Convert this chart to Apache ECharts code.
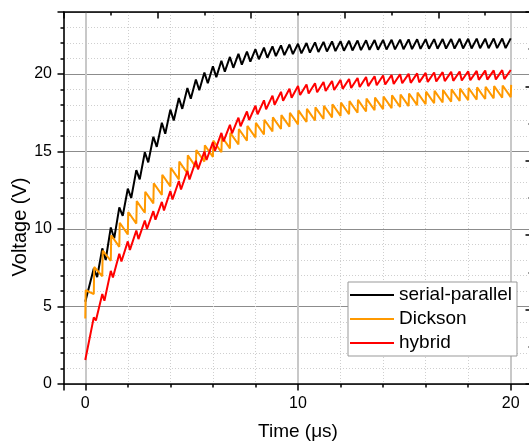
<!DOCTYPE html>
<html><head><meta charset="utf-8">
<script src="https://cdn.jsdelivr.net/npm/echarts@6/dist/echarts.min.js"></script>
<style>html,body{margin:0;padding:0;background:#fff}#c{width:529px;height:443px}</style>
</head><body><div id="c"></div>
<script>
const seriesNames = ['serial-parallel', 'Dickson', 'hybrid'];
const xTickLabels = [0, 10, 20];
const yTickLabels = [0, 5, 10, 15, 20];

const serialParallel = [
[0,5.3],
[0.4,7.45],[0.56,6.9],[0.8,8.75],[0.96,8.0],[1.2,10.1],[1.36,9.4],[1.6,11.4],[1.76,10.85],
[2.0,12.6],[2.16,12.0],[2.4,13.8],[2.56,13.2],[2.8,14.95],[2.96,14.3],[3.2,15.95],[3.36,15.3],
[3.6,16.85],[3.76,16.15],[4.0,17.7],[4.16,17.0],[4.4,18.45],[4.56,17.75],[4.8,19.1],[4.96,18.4],
[5.2,19.65],[5.36,18.95],[5.6,20.1],[5.76,19.4],[6.0,20.5],[6.16,19.8],[6.4,20.85],[6.56,20.15],
[6.8,21.1],[6.96,20.4],[7.2,21.3],[7.36,20.6],[7.6,21.45],[7.76,20.8],[8.0,21.6],[8.16,20.95],
[8.4,21.7],[8.56,21.05],[8.8,21.78],[8.96,21.15],[9.2,21.85],[9.36,21.22],[9.6,21.9],[9.76,21.28],
[10.0,21.95],[10.16,21.33],[10.4,22.0],[10.56,21.38],[10.8,22.04],[10.96,21.42],[11.2,22.07],[11.36,21.45],
[11.6,22.1],[11.76,21.48],[12.0,22.12],[12.16,21.5],[12.4,22.14],[12.56,21.52],[12.8,22.16],[12.96,21.54],
[13.2,22.18],[13.36,21.56],[13.6,22.19],[13.76,21.57],[14.0,22.2],[14.16,21.58],[14.4,22.21],[14.56,21.59],
[14.8,22.22],[14.96,21.6],[15.2,22.23],[15.36,21.61],[15.6,22.24],[15.76,21.62],[16.0,22.25],[16.16,21.63],
[16.4,22.25],[16.56,21.63],[16.8,22.26],[16.96,21.64],[17.2,22.26],[17.36,21.64],[17.6,22.27],[17.76,21.65],
[18.0,22.27],[18.16,21.65],[18.4,22.28],[18.56,21.66],[18.8,22.28],[18.96,21.66],[19.2,22.29],[19.36,21.67],
[19.6,22.29],[19.76,21.67],[20.0,22.3]
];

const dickson = [
[0,4.23],[0.02,6.05],
[0.4,5.8],[0.42,7.55],[0.8,6.95],[0.82,8.6],[1.2,7.95],[1.22,9.6],[1.6,8.85],[1.62,10.4],
[2.0,9.65],[2.02,11.1],[2.4,10.35],[2.42,11.8],[2.8,11.05],[2.82,12.4],[3.2,11.65],[3.22,12.95],
[3.6,12.2],[3.62,13.5],[4.0,12.75],[4.02,13.95],[4.4,13.2],[4.42,14.35],[4.8,13.6],[4.82,14.75],
[5.2,14.0],[5.22,15.1],[5.6,14.35],[5.62,15.4],[6.0,14.65],[6.02,15.7],[6.4,14.95],[6.42,15.95],
[6.8,15.2],[6.82,16.2],[7.2,15.45],[7.22,16.45],[7.6,15.7],[7.62,16.65],[8.0,15.9],[8.02,16.85],
[8.4,16.1],[8.42,17.05],[8.8,16.3],[8.82,17.2],[9.2,16.45],[9.22,17.35],[9.6,16.6],[9.62,17.5],
[10.0,16.75],[10.02,17.65],[10.4,16.9],[10.42,17.75],[10.8,17.0],[10.82,17.85],[11.2,17.1],[11.22,17.95],
[11.6,17.2],[11.62,18.05],[12.0,17.3],[12.02,18.15],[12.4,17.4],[12.42,18.25],[12.8,17.5],[12.82,18.33],
[13.2,17.58],[13.22,18.41],[13.6,17.66],[13.62,18.48],[14.0,17.73],[14.02,18.55],[14.4,17.8],[14.42,18.62],
[14.8,17.87],[14.82,18.68],[15.2,17.93],[15.22,18.74],[15.6,17.99],[15.62,18.8],[16.0,18.05],[16.02,18.86],
[16.4,18.11],[16.42,18.91],[16.8,18.16],[16.82,18.96],[17.2,18.21],[17.22,19.01],[17.6,18.26],[17.62,19.06],
[18.0,18.31],[18.02,19.1],[18.4,18.35],[18.42,19.14],[18.8,18.39],[18.82,19.18],[19.2,18.43],[19.22,19.22],
[19.6,18.47],[19.62,19.26],[20.0,18.51],[20.02,19.3]
];

const hybrid = [
[0,1.55],
[0.4,4.3],[0.5,4.1],[0.8,5.8],[0.9,5.37],[1.2,7.3],[1.3,6.87],[1.6,8.4],[1.7,7.9],
[2.0,9.2],[2.1,8.65],[2.4,9.9],[2.5,9.35],[2.8,10.55],[2.9,10.0],[3.2,11.15],[3.3,10.6],
[3.6,11.75],[3.7,11.2],[4.0,12.45],[4.1,11.9],[4.4,13.1],[4.5,12.55],[4.8,13.75],[4.9,13.2],
[5.2,14.4],[5.3,13.85],[5.6,15.0],[5.7,14.45],[6.0,15.6],[6.1,15.05],[6.4,16.2],[6.5,15.65],
[6.8,16.72],[6.9,16.17],[7.2,17.18],[7.3,16.63],[7.6,17.58],[7.7,17.03],[8.0,17.95],[8.1,17.4],
[8.4,18.3],[8.5,17.72],[8.8,18.6],[8.9,18.02],[9.2,18.85],[9.3,18.27],[9.6,19.05],[9.7,18.47],
[10.0,19.22],[10.1,18.64],[10.4,19.32],[10.5,18.74],[10.8,19.4],[10.9,18.82],[11.2,19.48],[11.3,18.9],
[11.6,19.55],[11.7,18.97],[12.0,19.62],[12.1,19.04],[12.4,19.68],[12.5,19.1],[12.8,19.74],[12.9,19.16],
[13.2,19.8],[13.3,19.22],[13.6,19.85],[13.7,19.27],[14.0,19.9],[14.1,19.32],[14.4,19.94],[14.5,19.36],
[14.8,19.98],[14.9,19.4],[15.2,20.01],[15.3,19.43],[15.6,20.04],[15.7,19.46],[16.0,20.07],[16.1,19.49],
[16.4,20.1],[16.5,19.52],[16.8,20.12],[16.9,19.54],[17.2,20.14],[17.3,19.56],[17.6,20.16],[17.7,19.58],
[18.0,20.18],[18.1,19.6],[18.4,20.2],[18.5,19.62],[18.8,20.22],[18.9,19.64],[19.2,20.23],[19.3,19.65],
[19.6,20.25],[19.7,19.67],[20.0,20.26]
];

const FONT = '"Liberation Sans", Arial, sans-serif';
const AX = {color: '#000', width: 1.5};
const chart = echarts.init(document.getElementById('c'), null, {renderer: 'canvas'});
chart.setOption({
  animation: false,
  backgroundColor: '#fff',
  textStyle: {fontFamily: FONT},
  grid: {left: 64, top: 12, right: -3, bottom: 59, containLabel: false, outerBoundsMode: 'none'},
  legend: {
    orient: 'vertical', left: 348, top: 282, icon: 'rect',
    padding: [3, 5, 3, 2], itemGap: 4, itemWidth: 44, itemHeight: 2,
    borderColor: '#999', borderWidth: 1, backgroundColor: '#fff', borderRadius: 0,
    textStyle: {fontSize: 19, color: '#000', fontFamily: FONT, lineHeight: 20},
    data: seriesNames
  },
  xAxis: [{
    type: 'value', min: -1, max: 21, minInterval: 10, maxInterval: 10,
    axisLine: {show: true, onZero: false, lineStyle: AX},
    axisTick: {show: true, inside: false, length: 6.5, lineStyle: AX},
    minorTick: {show: true, splitNumber: 5, length: 3.5, lineStyle: AX},
    axisLabel: {show: true, margin: 12, fontSize: 16, color: '#000', fontFamily: FONT,
      formatter: v => xTickLabels.includes(v) ? String(v) : ''},
    splitLine: {show: true, lineStyle: {color: '#c8c8c8', width: 2}},
    minorSplitLine: {show: true, lineStyle: {color: '#cfcfcf', width: 1, type: [1, 2]}},
    name: 'Time (μs)', nameLocation: 'middle', nameGap: 38, nameMoveOverlap: false,
    nameTextStyle: {fontSize: 19, color: '#000', fontFamily: FONT}
  }, {
    type: 'value', position: 'top', min: 0, max: 5, interval: 1,
    axisLine: {show: true, onZero: false, lineStyle: AX},
    axisTick: {show: true, inside: true, length: 6.5, lineStyle: AX},
    minorTick: {show: true, splitNumber: 2, length: 3.5, lineStyle: AX},
    axisLabel: {show: false}, splitLine: {show: false}
  }],
  yAxis: [{
    type: 'value', min: 0, max: 24, interval: 5,
    axisLine: {show: true, onZero: false, lineStyle: AX},
    axisTick: {show: true, inside: false, length: 6.5, lineStyle: AX},
    minorTick: {show: true, splitNumber: 5, length: 3.5, lineStyle: AX},
    axisLabel: {show: true, margin: 12, fontSize: 16, color: '#000', fontFamily: FONT,
      formatter: v => yTickLabels.includes(v) ? String(v) : ''},
    splitLine: {show: true, lineStyle: {color: '#8c8c8c', width: 1}},
    minorSplitLine: {show: true, lineStyle: {color: '#cfcfcf', width: 1, type: [1, 2]}},
    name: 'Voltage (V)', nameLocation: 'middle', nameGap: 34, nameMoveOverlap: false,
    nameTextStyle: {fontSize: 20, color: '#000', fontFamily: FONT, padding: [0, 58, 0, 0]}
  }, {
    type: 'value', position: 'right', min: 0, max: 5, interval: 1,
    axisLine: {show: true, onZero: false, lineStyle: AX},
    axisTick: {show: true, inside: true, length: 6.5, lineStyle: AX},
    minorTick: {show: true, splitNumber: 2, length: 3.5, lineStyle: AX},
    axisLabel: {show: false}, splitLine: {show: false}
  }],
  series: [
    {name: seriesNames[0], type: 'line', data: serialParallel, symbol: 'none',
     lineStyle: {color: '#000000', width: 2}, itemStyle: {color: '#000000'}},
    {name: seriesNames[1], type: 'line', data: dickson, symbol: 'none',
     lineStyle: {color: '#ff9900', width: 2}, itemStyle: {color: '#ff9900'}},
    {name: seriesNames[2], type: 'line', data: hybrid, symbol: 'none',
     lineStyle: {color: '#ff0000', width: 2}, itemStyle: {color: '#ff0000'}}
  ]
});
</script>
</body></html>
